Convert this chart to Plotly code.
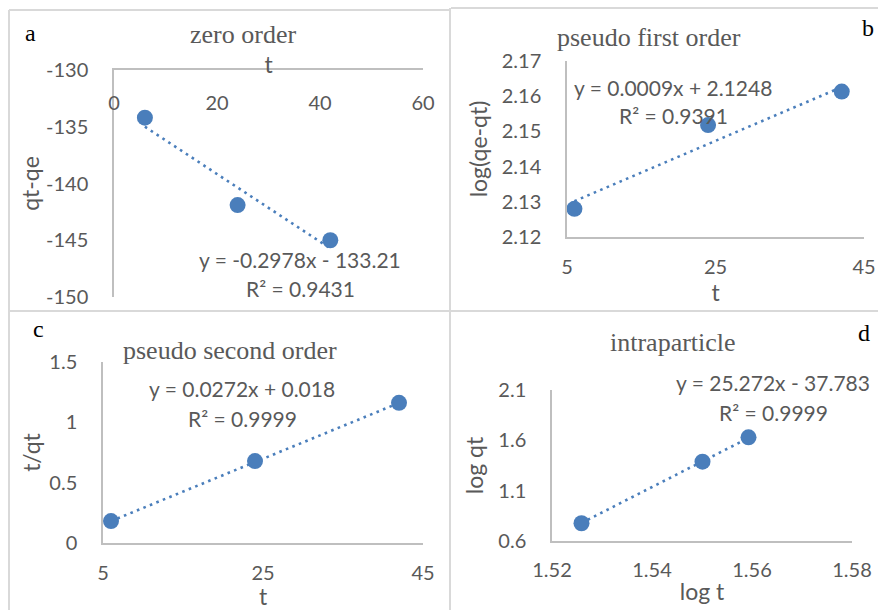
import plotly.graph_objects as go

W, H = 878, 610

# ---------------- data ----------------
t_a = [6, 24, 42]
qtqe = [-134.2, -141.9, -145.0]
fit_a = [-0.2978, -133.21]

t_b = [6, 24, 42]
log_qe_qt = [2.128, 2.1518, 2.1613]
fit_b = [0.0009, 2.1248]

t_c = [6, 24, 42]
t_over_qt = [0.182, 0.679, 1.162]
fit_c = [0.0272, 0.018]

log_t = [1.5259, 1.5501, 1.5593]
log_qt = [0.776, 1.388, 1.630]
fit_d = [25.272, -37.783]

eq_a = ["y = -0.2978x - 133.21", "R² = 0.9431"]
eq_b = ["y = 0.0009x + 2.1248", "R² = 0.9391"]
eq_c = ["y = 0.0272x + 0.018", "R² = 0.9999"]
eq_d = ["y = 25.272x - 37.783", "R² = 0.9999"]

titles = ["zero order", "pseudo first order", "pseudo second order", "intraparticle"]
letters = ["a", "b", "c", "d"]

ytick_a_vals = [-150, -145, -140, -135, -130]
ytick_a_text = ["-150", "-145", "-140", "-135", "-130"]

# ---------------- helpers ----------------
def px(p):
    return p / W

def py(p):
    return 1 - p / H

BLUE = "#4A7EBB"
GRAY = "#595959"
LINE = "#BFBFBF"
TICKF = dict(family="Lato", size=20, color=GRAY)
TITLEF = dict(family="Lato", size=23, color=GRAY)

fig = go.Figure()

panels = [
    (t_a, qtqe, fit_a, "x", "y"),
    (t_b, log_qe_qt, fit_b, "x2", "y2"),
    (t_c, t_over_qt, fit_c, "x3", "y3"),
    (log_t, log_qt, fit_d, "x4", "y4"),
]
for xs, ys, fit, xa, ya in panels:
    x0, x1 = min(xs), max(xs)
    fig.add_trace(go.Scatter(x=[x0, x1], y=[fit[0] * x0 + fit[1], fit[0] * x1 + fit[1]],
                             mode="lines", xaxis=xa, yaxis=ya,
                             line=dict(color=BLUE, width=2.6, dash="2.6px,4.4px"),
                             showlegend=False, hoverinfo="skip"))
    fig.add_trace(go.Scatter(x=xs, y=ys, mode="markers", xaxis=xa, yaxis=ya,
                             marker=dict(color=BLUE, size=16), showlegend=False))

common = dict(showgrid=False, zeroline=False, showline=True, linecolor=LINE, linewidth=1.5,
              ticks="", tickfont=TICKF, automargin=False)

layout = dict(
    width=W, height=H, margin=dict(l=0, r=0, t=0, b=0),
    paper_bgcolor="white", plot_bgcolor="white",
    # panel a
    xaxis=dict(common, domain=[px(114), px(423)], range=[0, 60], dtick=20, tick0=0,
               side="top", ticklabelposition="inside", ticklabeloverflow="allow",
               ticklabelstandoff=27, anchor="y",
               title=dict(text="t", font=TITLEF, standoff=10)),
    yaxis=dict(common, domain=[py(297), py(70)], range=[-150, -130],
               tickvals=ytick_a_vals, ticktext=ytick_a_text, anchor="x",
               ticklabelstandoff=20, title=dict(text="qt-qe", font=TITLEF, standoff=0)),
    # panel b
    xaxis2=dict(common, domain=[px(567), px(864)], range=[5, 45], dtick=20, tick0=5,
                anchor="y2", ticklabelstandoff=11, title=dict(text="t", font=TITLEF, standoff=4)),
    yaxis2=dict(common, domain=[py(237), py(61)], range=[2.12, 2.17], dtick=0.01, tick0=2.12,
                anchor="x2", ticklabelstandoff=20,
                title=dict(text="log(qe-qt)", font=TITLEF, standoff=8)),
    # panel c
    xaxis3=dict(common, domain=[px(103), px(423)], range=[5, 45], dtick=20, tick0=5,
                anchor="y3", ticklabelstandoff=11, title=dict(text="t", font=TITLEF, standoff=4)),
    yaxis3=dict(common, domain=[py(543), py(362)], range=[0, 1.5], dtick=0.5, tick0=0,
                anchor="x3", ticklabelstandoff=20,
                title=dict(text="t/qt", font=TITLEF, standoff=2)),
    # panel d
    xaxis4=dict(common, domain=[px(552), px(852)], range=[1.52, 1.58], dtick=0.02, tick0=1.52,
                anchor="y4", ticklabelstandoff=10, title=dict(text="log t", font=TITLEF, standoff=4)),
    yaxis4=dict(common, domain=[py(541), py(390)], range=[0.6, 2.1], dtick=0.5, tick0=0.6,
                anchor="x4", ticklabelstandoff=20,
                title=dict(text="log qt", font=TITLEF, standoff=8)),
)
fig.update_layout(**layout)

# panel borders
BORDER = "#D9D9D9"
for x0, y0, x1, y1 in [(9, 10, 451, 10), (451, 8, W, 8), (9, 10, 9, H), (450, 8, 450, H),
                       (9, 311, W, 311)]:
    fig.add_shape(type="line", xref="paper", yref="paper", x0=px(x0), y0=py(y0),
                  x1=px(x1), y1=py(y1), line=dict(color=BORDER, width=2))

# titles
SERIF = "Liberation Serif"
for txt, (cx, cy) in zip(titles, [(243, 35), (649, 37), (230, 350), (673, 342)]):
    fig.add_annotation(text=txt, xref="paper", yref="paper", x=px(cx), y=py(cy),
                       showarrow=False, font=dict(family=SERIF, size=26, color=GRAY),
                       xanchor="center", yanchor="middle")
for txt, (cx, cy) in zip(letters, [(30, 33), (868, 28), (38, 329), (864, 333)]):
    fig.add_annotation(text=txt, xref="paper", yref="paper", x=px(cx), y=py(cy),
                       showarrow=False, font=dict(family=SERIF, size=24, color="black"),
                       xanchor="center", yanchor="middle")

# equations
EQF = dict(family="Lato", size=21, color=GRAY)
for eq, (cx, cy1, cy2) in zip([eq_a, eq_b, eq_c, eq_d],
                              [(300, 259, 288), (673, 87, 116), (242, 388, 418), (773, 382, 412)]):
    fig.add_annotation(text=eq[0], xref="paper", yref="paper", x=px(cx), y=py(cy1),
                       showarrow=False, font=EQF, xanchor="center", yanchor="middle")
    fig.add_annotation(text=eq[1], xref="paper", yref="paper", x=px(cx), y=py(cy2),
                       showarrow=False, font=EQF, xanchor="center", yanchor="middle")

fig.write_html("out.html", config={"displayModeBar": False},
               post_script="document.body.style.margin='0';")
